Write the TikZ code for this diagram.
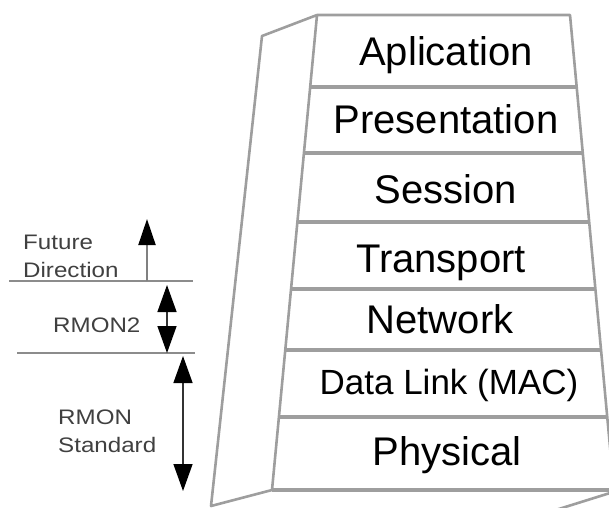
\documentclass[tikz,border=0pt]{standalone}
\usepackage{fontspec}
\setmainfont{Liberation Sans}
\newfontfamily\sidefont[FakeStretch=1.15]{Liberation Sans}
\usetikzlibrary{calc,arrows.meta}
\definecolor{edgegray}{gray}{0.62}
\tikzset{
  wall/.style={draw=edgegray,line width=2.6pt,line join=round},
  sep/.style={draw=edgegray,line width=4.5pt},
  layer/.style={anchor=base,inner sep=0pt,font=\fontsize{40}{44}\selectfont},
  side/.style={anchor=north west,inner sep=0pt,align=left,text=black!75,
    font=\sidefont\fontsize{21}{27.5}\selectfont},
  level/.style={draw=black!45,line width=1.1pt},
  tip/.style={Triangle[length=26pt,width=18pt,color=black]},
  uparr/.style={-{Triangle[length=26pt,width=17pt,color=black]},draw=black!50,line width=2pt},
  bothar/.style={{Triangle[length=27pt,width=19pt,color=black]}-{Triangle[length=27pt,width=19pt,color=black]},draw=black!80,line width=1.4pt}
}
\begin{document}
\begin{tikzpicture}[x=1pt,y=-1pt]
  \useasboundingbox (0,0) rectangle (609,507);
  \clip (0,0) rectangle (609,507);

  % front face of the stack
  \coordinate (TL) at (317,15);
  \coordinate (TR) at (570,15);
  \coordinate (BR) at (614,490);
  \coordinate (BL) at (272,490);
  % side wall
  \coordinate (OT) at (262,36);
  \coordinate (OB) at (211,506);

  \draw[wall] (TL) -- (OT) -- (OB) -- (BL);
  \draw[wall] (BR) ++(-4,3) -- ++(-64,20);
  \draw[wall] (BL) -- (TL) -- (TR) -- (BR);
  \draw[sep] (BL) -- (BR);
  \foreach \y in {87,153,222,289,350,417}
    \draw[sep] ($(TL)!{(\y-15)/475}!(BL)$) -- ($(TR)!{(\y-15)/475}!(BR)$);

  \node[layer] (app) at (446,65) {Aplication};
  \node[layer] (pres) at (446,133) {Presentation};
  \node[layer] (sess) at (446,203) {Session};
  \node[layer] (trans) at (441,272) {Transport};
  \node[layer] (net) at (440,333) {Network};
  \node[layer,font=\fontsize{35}{40}\selectfont] (link) at (449,394) {Data Link (MAC)};
  \node[layer] (phys) at (447,465) {Physical};

  % RMON coverage
  \coordinate (l1a) at (9,281);
  \coordinate (l1b) at (193,281);
  \coordinate (l2a) at (17,353);
  \coordinate (l2b) at (195,353);
  \draw[level] (l1a) -- (l1b);
  \draw[level] (l2a) -- (l2b);

  \node[side] (future) at (23,235) {Future\\Direction};
  \node[side] (rmontwo) at (53,318) {RMON2};
  \node[side] (rmon) at (58,410) {RMON\\Standard};

  \coordinate (fa) at (147,281);
  \coordinate (fb) at (147,219);
  \draw[uparr] (fa) -- (fb);

  \coordinate (ra) at (167,285);
  \coordinate (rb) at (167,353);
  \draw[bothar] (ra) -- (rb);

  \coordinate (sa) at (183,356);
  \coordinate (sb) at (183,491);
  \draw[bothar] (sa) -- (sb);
\end{tikzpicture}
\end{document}
